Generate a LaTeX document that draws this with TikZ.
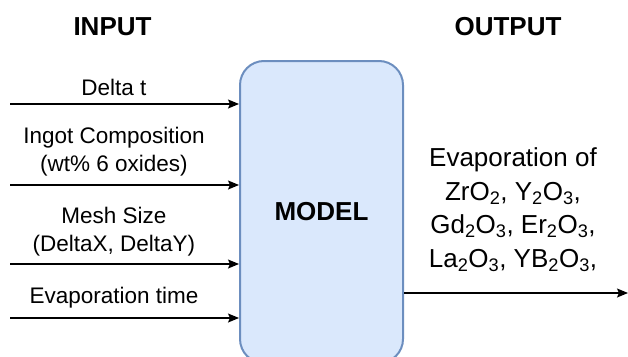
\documentclass[tikz,border=0pt]{standalone}
\usepackage{fontspec}
\setmainfont{Liberation Sans}
\usetikzlibrary{arrows.meta}
\definecolor{modelfill}{HTML}{DAE8FC}
\definecolor{modeldraw}{HTML}{6C8EBF}

\begin{document}
\begin{tikzpicture}[x=1pt, y=-1pt,
    title/.style={font=\fontsize{26}{30}\selectfont\bfseries, inner sep=0pt, anchor=base},
    inlabel/.style={font=\fontsize{22.5}{28}\selectfont, align=center, inner sep=0pt, anchor=base},
    outlabel/.style={font=\fontsize{26}{33.5}\selectfont, align=center, inner sep=0pt, anchor=base},
    flow/.style={-{Stealth[length=11pt, width=9pt, inset=2pt]}, line width=1.3pt},
    modelbox/.style={shape=rectangle, rounded corners=24pt, fill=modelfill, draw=modeldraw,
        line width=2pt, minimum width=163pt, minimum height=302pt,
        font=\fontsize{26}{30}\selectfont\bfseries}]
    \useasboundingbox (0,0) rectangle (628,356);
    \clip (0,0) rectangle (628,356);
    \node[title] at (112.5,35) (T-in) {INPUT};
    \node[title] at (508,35) (T-out) {OUTPUT};
    \node[modelbox] at (321.5,212) (M) {MODEL};
    % inputs
    \node[inlabel] at (114,95) (L1) {Delta t};
    \node[inlabel] at (114,171) (L2) {Ingot Composition\\(wt\% 6 oxides)};
    \node[inlabel] at (114,251) (L3) {Mesh Size\\(DeltaX, DeltaY)};
    \node[inlabel] at (114,303) (L4) {Evaporation time};
    \coordinate (I1) at (10,104);
    \coordinate (I2) at (10,185);
    \coordinate (I3) at (10,264);
    \coordinate (I4) at (10,318);
    \draw[flow] (I1) -- (I1 -| M.west);
    \draw[flow] (I2) -- (I2 -| M.west);
    \draw[flow] (I3) -- (I3 -| M.west);
    \draw[flow] (I4) -- (I4 -| M.west);
    % output
    \node[outlabel] at (513,267) (R) {Evaporation of\\ZrO\textsubscript{2}, Y\textsubscript{2}O\textsubscript{3},\\Gd\textsubscript{2}O\textsubscript{3}, Er\textsubscript{2}O\textsubscript{3},\\La\textsubscript{2}O\textsubscript{3}, YB\textsubscript{2}O\textsubscript{3},};
    \coordinate (O1) at (628,293);
    \draw[flow] (O1 -| M.east) -- (O1);
\end{tikzpicture}
\end{document}
